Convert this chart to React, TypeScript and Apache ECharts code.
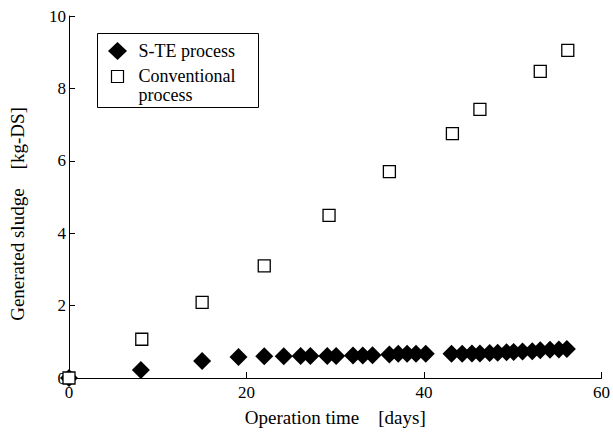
import React, { useEffect, useRef } from "react";
import * as echarts from "echarts";

const steDays = [0, 8.1, 15, 19.1, 22, 24.2, 26.1, 27.2, 29.1, 30.1, 32, 33.1, 34.2, 36.1, 37.1, 38.1, 39.1, 40.2, 43.1, 44.3, 45.4, 46.3, 47.4, 48.3, 49.3, 50.1, 51.1, 52.2, 53.1, 54.2, 55.2, 56.1];
const steValues = [0, 0.22, 0.47, 0.58, 0.6, 0.6, 0.61, 0.61, 0.61, 0.61, 0.62, 0.62, 0.63, 0.65, 0.67, 0.67, 0.67, 0.67, 0.67, 0.67, 0.68, 0.68, 0.69, 0.7, 0.71, 0.72, 0.73, 0.74, 0.77, 0.78, 0.79, 0.8];
const convDays = [0, 8.2, 15, 22, 29.3, 36.1, 43.2, 46.3, 53.1, 56.2];
const convValues = [0, 1.07, 2.09, 3.1, 4.49, 5.7, 6.75, 7.42, 8.47, 9.05];

const seriesNames = ["S-TE process", "Conventional process"];
const xName = "Operation time    [days]";
const yName = "Generated sludge    [kg-DS]";

const FONT = "'Liberation Serif', 'DejaVu Serif', serif";

export default function App() {
  const ref = useRef<HTMLDivElement>(null);
  useEffect(() => {
    if (!ref.current) return;
    const chart = echarts.init(ref.current, null, { renderer: "svg" });
    const ste = steDays.map((d, i) => [d, steValues[i]]);
    const conv = convDays.map((d, i) => [d, convValues[i]]);
    chart.setOption({
      animation: false,
      backgroundColor: "#fff",
      grid: { left: 64, right: 8, top: 16, bottom: 52, containLabel: false },
      xAxis: {
        type: "value",
        min: 0,
        max: 60,
        interval: 20,
        name: xName,
        nameLocation: "middle",
        nameGap: 30,
        nameTextStyle: { fontFamily: FONT, fontSize: 19, color: "#000" },
        axisLine: { show: true, lineStyle: { color: "#000", width: 1 } },
        axisTick: { show: true, inside: true, length: 6, lineStyle: { color: "#000" } },
        axisLabel: { fontFamily: FONT, fontSize: 17, color: "#000", margin: 6 },
        splitLine: { show: false },
      },
      yAxis: {
        type: "value",
        min: 0,
        max: 10,
        interval: 2,
        name: yName,
        nameLocation: "middle",
        nameGap: 42,
        nameRotate: 90,
        nameTextStyle: { fontFamily: FONT, fontSize: 19, color: "#000", padding: [0, 34, 0, 0] },
        axisLine: { show: true, lineStyle: { color: "#000", width: 1 } },
        axisTick: { show: true, inside: true, length: 6, lineStyle: { color: "#000" } },
        axisLabel: { fontFamily: FONT, fontSize: 17, color: "#000", margin: 3 },
        splitLine: { show: false },
      },
      series: [
        {
          name: seriesNames[0],
          type: "scatter",
          data: ste,
          symbol: "diamond",
          symbolSize: [18, 18],
          clip: false,
          itemStyle: { color: "#000", opacity: 1 },
        },
        {
          name: seriesNames[1],
          type: "scatter",
          data: conv,
          symbol: "rect",
          symbolSize: 12,
          clip: false,
          itemStyle: { color: "#fff", borderColor: "#000", borderWidth: 1.3, opacity: 1 },
        },
      ],
      graphic: [
        {
          type: "group",
          left: 97,
          top: 33,
          children: [
            {
              type: "rect",
              shape: { x: 0, y: 0, width: 161, height: 74 },
              style: { fill: "#fff", stroke: "#000", lineWidth: 1 },
            },
            {
              type: "polygon",
              shape: { points: [[20, 8.5], [29.5, 17.5], [20, 26.5], [10.5, 17.5]] },
              style: { fill: "#000" },
            },
            {
              type: "text",
              x: 41,
              y: 17.5,
              style: { text: seriesNames[0], font: `18px ${FONT}`, fill: "#000", verticalAlign: "middle" },
            },
            {
              type: "rect",
              shape: { x: 14, y: 37, width: 12, height: 12 },
              style: { fill: "#fff", stroke: "#000", lineWidth: 1.2 },
            },
            {
              type: "text",
              x: 41,
              y: 42.5,
              style: { text: "Conventional", font: `18px ${FONT}`, fill: "#000", verticalAlign: "middle" },
            },
            {
              type: "text",
              x: 41,
              y: 61.5,
              style: { text: "process", font: `18px ${FONT}`, fill: "#000", verticalAlign: "middle" },
            },
          ],
        },
      ],
    });
    return () => chart.dispose();
  }, []);
  return (
    <div
      ref={ref}
      style={{ position: "absolute", left: 0, top: 0, width: 613, height: 432 }}
    />
  );
}
